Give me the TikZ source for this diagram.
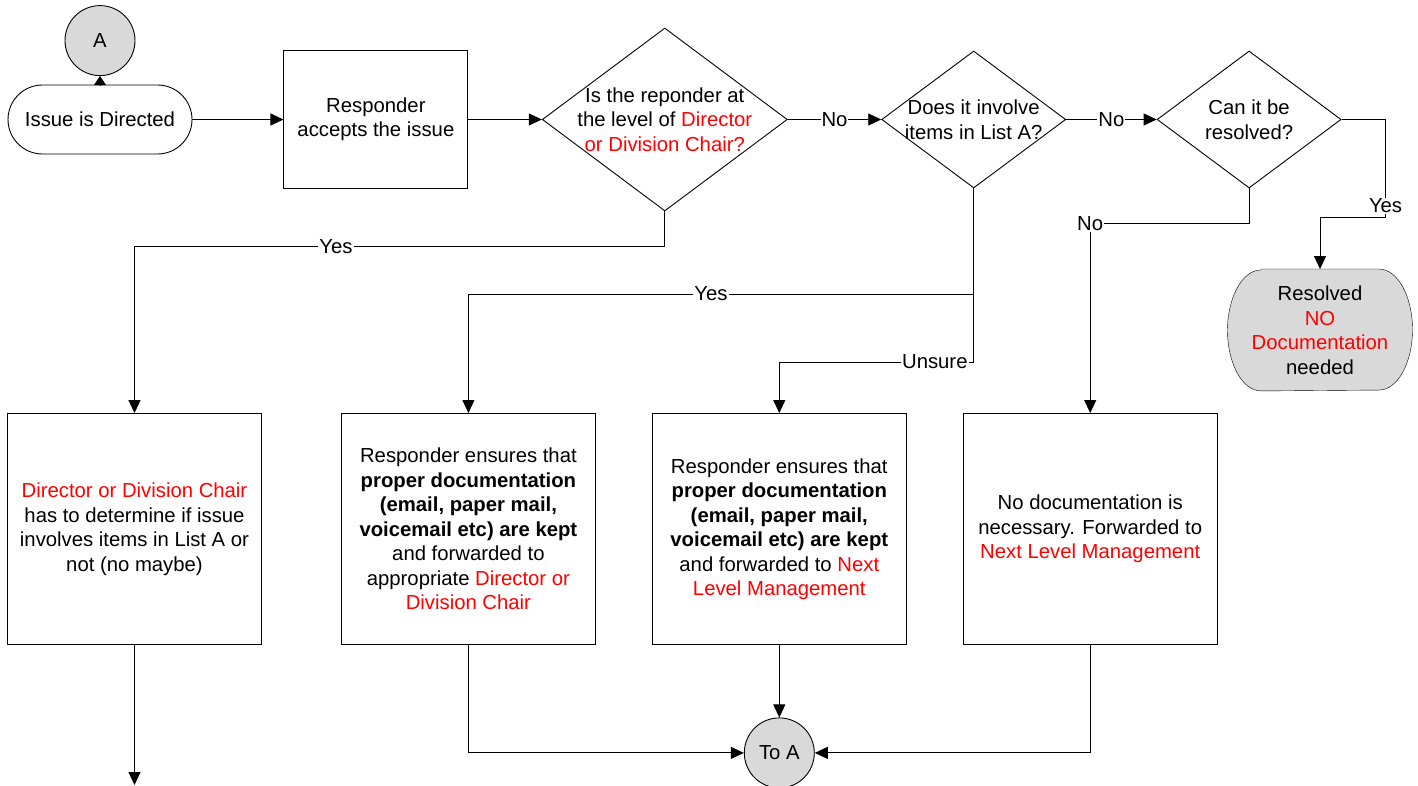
\documentclass[tikz,border=0pt]{standalone}
\usepackage{fontspec}
\setmainfont{Liberation Sans}
\usepackage{xcolor}
\usepackage{tikz}
\usetikzlibrary{shapes.geometric,arrows.meta,positioning,backgrounds}
\definecolor{termgray}{RGB}{217,217,217}

\begin{document}
\begin{tikzpicture}[x=1pt, y=1pt, line width=0.9pt, font=\fontsize{20.3}{24.5}\selectfont,
	proc/.style = {draw, rectangle, minimum width=254pt, minimum height=231pt, inner sep=0pt, align=center},
	decision/.style = {draw, diamond, inner sep=0pt, minimum width=184pt, minimum height=137pt},
	term/.style = {draw, rectangle, rounded corners=34.5pt, minimum width=184pt, minimum height=69pt, inner sep=0pt},
	conn/.style = {draw, circle, fill=termgray, minimum size=70pt, inner sep=0pt},
	flow/.style = {-{Triangle[length=13pt, width=12pt]}},
	lbl/.style = {fill=white, inner sep=1pt}]
	\useasboundingbox (0,0) rectangle (1418,-786);
	\node[term] (issue) at (100,-119.5) {Issue is Directed};
	\node[conn, above=8.5pt of issue] (A) {A};
	\node[draw, minimum width=184pt, minimum height=138pt, align=center, right=91pt of issue] (accept) {Responder\\accepts the issue};
	\node[decision, minimum width=245pt, minimum height=183pt, right=73.5pt of accept,
		label={[align=center]center:Is the reponder at\\the level of {\color{red}Director}\\{\color{red}or Division Chair?}}] (d1) {};
	\node[decision, right=93.5pt of d1, label={[align=center]center:Does it involve\\items in List A?}] (d2) {};
	\node[decision, right=90.5pt of d2, label={[align=center]center:Can it be\\resolved?}] (d3) {};
	\node[align=center, minimum width=185pt, minimum height=121pt] (res) at (1320,-330) {Resolved\\{\color{red}NO}\\{\color{red}Documentation}\\needed};
	\begin{scope}[on background layer]
		\draw[fill=termgray] ([xshift=-59pt]res.north) -- ([xshift=59pt]res.north)
			arc[start angle=90, end angle=-90, x radius=33.5pt, y radius=60.5pt]
			-- ([xshift=-59pt]res.south)
			arc[start angle=270, end angle=90, x radius=33.5pt, y radius=60.5pt] -- cycle;
	\end{scope}
	\node[proc] (b1) at (134.5,-529) {{\color{red}Director or Division Chair}\\has to determine if issue\\involves items in List A or\\not (no maybe)};
	\node[proc, right=79pt of b1] (b2) {Responder ensures that\\\textbf{proper documentation}\\\textbf{(email, paper mail,}\\\textbf{voicemail etc) are kept}\\and forwarded to\\appropriate {\color{red}Director or}\\{\color{red}Division Chair}};
	\node[proc, right=56pt of b2] (b3) {Responder ensures that\\\textbf{proper documentation}\\\textbf{(email, paper mail,}\\\textbf{voicemail etc) are kept}\\and forwarded to {\color{red}Next}\\{\color{red}Level Management}};
	\node[proc, right=56pt of b3] (b4) {No documentation is\\necessary. Forwarded to\\{\color{red}Next Level Management}};
	\node[conn, below=72.5pt of b3] (toA) {To A};
	\coordinate (out1) at (134.5,-785);
	\draw[flow, -{Triangle[length=9pt, width=12pt]}] (issue.north) -- (A.south);
	\draw[flow] (issue) -- (accept);
	\draw[flow] (accept) -- (d1.west);
	\draw[flow] (d1.east) -- node[lbl]{No} (d2.west);
	\draw[flow] (d2.east) -- node[lbl]{No} (d3.west);
	\draw[flow] (d1.south) -- ++(0,-35) -| node[lbl, pos=0.31]{Yes} (b1.north);
	\draw (d2.south) -- ++(0,-105.5) coordinate (split);
	\draw[flow] (split) -| node[lbl, pos=0.26]{Yes} (b2.north);
	\draw[flow] (split) -- ++(0,-68) -| node[lbl, pos=0.1]{Unsure} (b3.north);
	\draw[flow] (d3.south) -- ++(0,-35) -| node[lbl]{No} (b4.north);
	\draw[flow] (d3.east) -| node[lbl, pos=0.94]{Yes} ++(44,-98) -| (res.north);
	\draw[flow] (b1.south) -- (out1);
	\draw[flow] (b2.south) |- (toA.west);
	\draw[flow] (b3.south) -- (toA.north);
	\draw[flow] (b4.south) |- (toA.east);
\end{tikzpicture}
\end{document}
